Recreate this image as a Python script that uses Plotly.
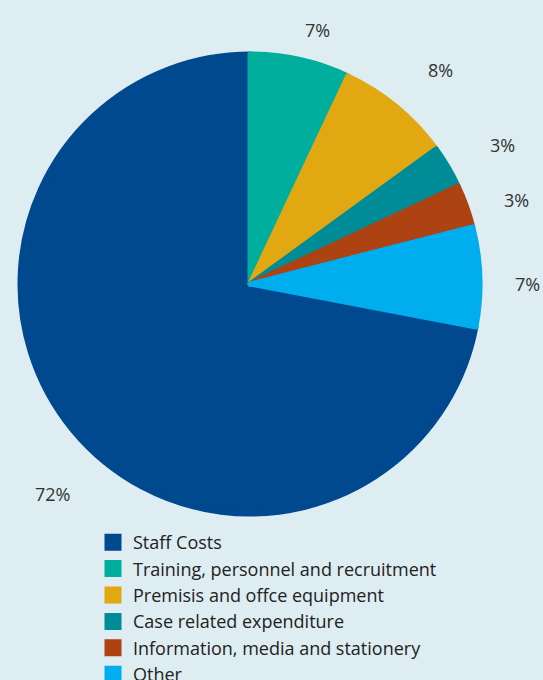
import math
import plotly.graph_objects as go

categories = ["Staff Costs", "Training, personnel and recruitment", "Premisis and offce equipment",
              "Case related expenditure", "Information, media and stationery", "Other"]
values = [72, 7, 8, 3, 3, 7]
colors = ["#01498f", "#00ae9e", "#e2a812", "#008c96", "#ad4212", "#00adee"]

W, H = 543, 680
BG = "#ddedf1"
FONT = "Open Sans"

# pie geometry (pixels)
cx, cy, R = 250, 284, 230

# label placement style: distance from centre (px) and angular nudge (deg)
label_dist = [287, 263, 288, 290, 281, 279]
label_nudge = [-7.4, 2.8, 2.4, 1.9, 2.4, 1.8]

total = sum(values)
# Staff Costs first in legend, but slices start with Training at 12 o'clock
rot = 360 * values[0] / total

fig = go.Figure()
fig.add_trace(go.Pie(
    labels=categories, values=values, sort=False, direction="clockwise",
    rotation=-rot,
    marker=dict(colors=colors, line=dict(color=colors, width=5)),
    textinfo="none", hoverinfo="label+percent",
    domain=dict(x=[(cx - R) / W, (cx + R) / W], y=[1 - (cy + R) / H, 1 - (cy - R) / H]),
))

# percentage labels outside, angle computed from the data
cum = 0
order = list(range(1, len(values))) + [0]
for i in order:
    mid = (cum + values[i] / 2) / total * 360
    cum += values[i]
    ang = math.radians(mid + label_nudge[i])
    rl = label_dist[i]
    px = cx - 2 + rl * math.sin(ang)
    py = cy - rl * math.cos(ang)
    fig.add_annotation(x=px / W, y=1 - py / H, xref="paper", yref="paper",
                       text=f"{round(values[i] / total * 100)}%", showarrow=False,
                       font=dict(family=FONT, size=18, color="#333333"),
                       xanchor="center", yanchor="middle")

fig.update_layout(
    width=W, height=H, margin=dict(l=0, r=0, t=0, b=0, autoexpand=False),
    paper_bgcolor=BG, plot_bgcolor=BG,
    showlegend=True,
    legend=dict(x=93 / W, y=1 - 524 / H, xanchor="left", yanchor="top",
                font=dict(family=FONT, size=18, color="#222222"),
                bgcolor="rgba(0,0,0,0)", traceorder="normal"),
)
fig.write_html("out.html")
